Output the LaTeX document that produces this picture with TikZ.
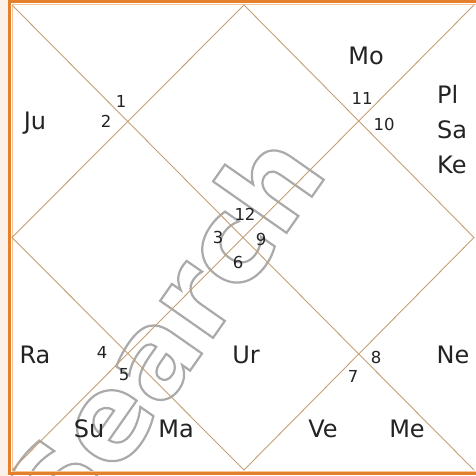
\documentclass[tikz,border=0pt]{standalone}
\usepackage{fontspec}
\setmainfont{DejaVu Sans}
\definecolor{frameor}{RGB}{228,128,45}
\definecolor{framelt}{RGB}{246,196,150}
\definecolor{outerbg}{RGB}{252,241,232}
\definecolor{chartln}{RGB}{196,160,118}
\definecolor{txt}{RGB}{35,35,35}
\definecolor{wmark}{RGB}{170,170,170}
\begin{document}
\begin{tikzpicture}[x=1pt,y=-1pt,
  planet/.style={anchor=base,font=\fontsize{24}{28}\selectfont,text=txt,inner sep=0pt},
  house/.style={anchor=base,font=\fontsize{16.5}{19}\selectfont,text=txt,inner sep=0pt},
  chart/.style={draw=chartln,line width=0.9pt}]
\useasboundingbox (0,0) rectangle (475,476);
\fill[white] (0,0) rectangle (475,476);
\fill[outerbg] (0,0) rectangle (8,476);
% watermark
\node[rotate=55,text=wmark,font=\bfseries\fontsize{118}{126}\selectfont,inner sep=0pt] (wm) at (162,334)
  {\special{pdf:code 1 Tr 2.2 w}Search\special{pdf:code 0 Tr}};
% frame
\draw[frameor,line width=3.2pt] (9.7,1.8) rectangle (495,473.5);
\draw[framelt,line width=1pt] (12.2,4.4) rectangle (495,471);
% chart
\coordinate (TL) at (12,5);
\coordinate (TR) at (474,5);
\coordinate (BL) at (12,470);
\coordinate (BR) at (474,470);
\coordinate (T) at (244,5);
\coordinate (B) at (244,470);
\coordinate (L) at (12,237.5);
\coordinate (R) at (474,237.5);
\draw[chart] (TL) -- (BR);
\draw[chart] (TR) -- (BL);
\draw[chart] (T) -- (R) -- (B) -- (L) -- cycle;
% planets
\node[planet] (ju) at (35,129) {Ju};
\node[planet] (mo) at (366,65) {Mo};
\node[planet,anchor=base west] (pl) at (437,104) {Pl};
\node[planet,anchor=base west] (sa) at (437,139) {Sa};
\node[planet,anchor=base west] (ke) at (437,173) {Ke};
\node[planet] (ra) at (35,363) {Ra};
\node[planet] (ur) at (246,363) {Ur};
\node[planet] (ne) at (453,363) {Ne};
\node[planet] (su) at (89,437) {Su};
\node[planet] (ma) at (176,437) {Ma};
\node[planet] (ve) at (323,437) {Ve};
\node[planet] (me) at (407,437) {Me};
% house numbers
\node[house] (h1) at (121,107) {1};
\node[house] (h2) at (106,128) {2};
\node[house] (h11) at (362,105) {11};
\node[house] (h10) at (384,130) {10};
\node[house] (h12) at (245,220) {12};
\node[house] (h3) at (218,243) {3};
\node[house] (h9) at (261,245) {9};
\node[house] (h6) at (238,268) {6};
\node[house] (h4) at (102,358) {4};
\node[house] (h5) at (124,380) {5};
\node[house] (h8) at (376,363) {8};
\node[house] (h7) at (353,382) {7};
\end{tikzpicture}
\end{document}
